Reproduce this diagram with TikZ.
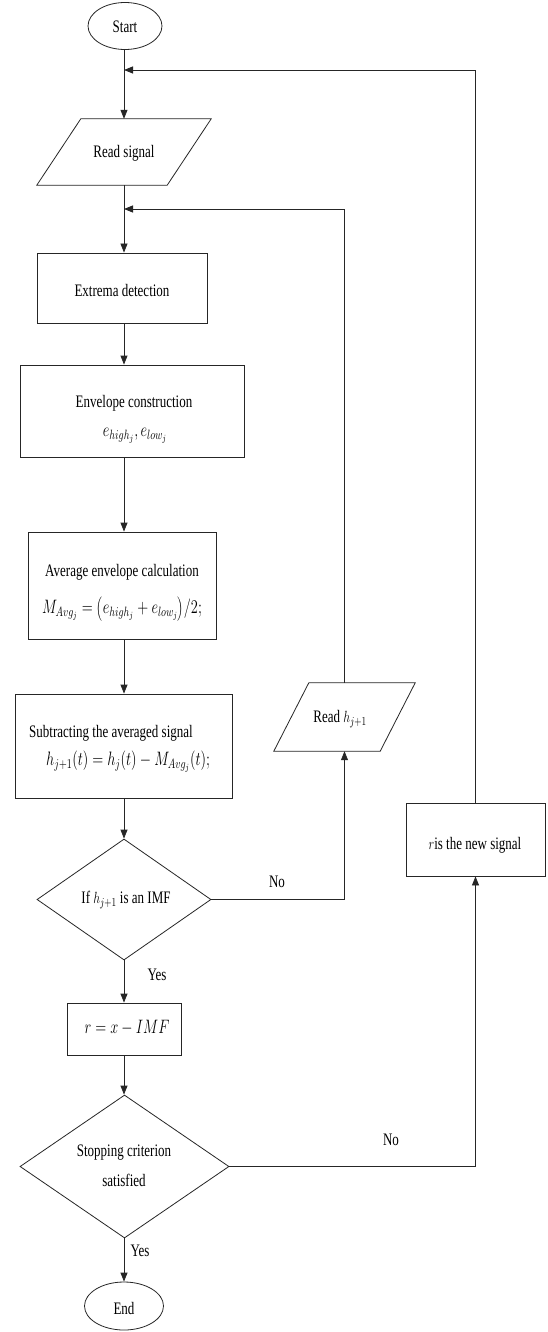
\documentclass[tikz,border=0pt]{standalone}
\usepackage{fontspec}
\setmainfont{Liberation Serif}
\usetikzlibrary{arrows.meta,shapes.geometric,calc}
% text in this chart is set slightly tall and narrow
\newcommand{\tall}[1]{\scalebox{1}[1.35]{#1}}

\begin{document}
\begin{tikzpicture}[x=1pt,y=-1pt,
  line/.style={draw=black!85, line width=0.8pt},
  arr/.style={line, -{Triangle[length=9pt,width=7pt]}},
  box/.style={draw=black!85, line width=0.8pt, rectangle, inner sep=0pt},
  term/.style={draw=black!85, line width=0.8pt, ellipse, inner sep=0pt},
  dec/.style={draw=black!85, line width=0.8pt, diamond, inner sep=0pt},
  io/.style={rectangle, inner sep=0pt},
  txt/.style={inner sep=0pt, font=\fontsize{13}{15}\selectfont},
  mtxt/.style={inner sep=0pt, font=\fontsize{14}{16}\selectfont},
]
\useasboundingbox (0,0) rectangle (547,1332);
\fill[white] (0,0) rectangle (547,1332);

% main vertical flow line and loop junctions
\coordinate (spine) at (124,0);
\coordinate (j1) at (124,70);
\coordinate (j2) at (124,209);

% terminals
\node[term, minimum width=74pt, minimum height=47pt] (start) at (125,26) {};
\node[txt] (start-t) at (125,27) {\tall{Start}};
\node[term, minimum width=79pt, minimum height=48pt] (end) at (124,1306) {};
\node[txt] (end-t) at (124,1308) {\tall{End}};

% input: read signal
\node[io, minimum width=130pt, minimum height=66pt] (read) at (124,152) {};
\draw[line] ($(read.north west)+(22,0)$) -- ($(read.north east)+(22,0)$)
  -- ($(read.south east)+(-22,0)$) -- ($(read.south west)+(-22,0)$) -- cycle;
\node[txt] (read-t) at (124,153) {\tall{Read signal}};

% process boxes
\node[box, minimum width=170pt, minimum height=70pt] (extr) at (122,288) {};
\node[txt] (extr-t) at (122,290) {\tall{Extrema detection}};

\node[box, minimum width=224pt, minimum height=92pt] (env) at (132,411) {};
\node[txt] (env-t1) at (134,403) {\tall{Envelope construction}};
\node[mtxt] (env-t2) at (135,436) {\tall{$e_{high_j}, e_{low_j}$}};

\node[box, minimum width=188pt, minimum height=107pt] (avg) at (122,585.5) {};
\node[txt] (avg-t1) at (122,572) {\tall{Average envelope calculation}};
\node[mtxt] (avg-t2) at (122,609) {\tall{$M_{Avg_j} = \left(e_{high_j} + e_{low_j}\right)\!/2;$}};

\node[box, minimum width=217pt, minimum height=104pt] (sub) at (123.5,746) {};
\node[txt, anchor=west] (sub-t1) at (29,733) {\tall{Subtracting the averaged signal}};
\node[mtxt, anchor=west] (sub-t2) at (46,762) {\tall{$h_{j+1}(t) = h_j(t) - M_{Avg_j}(t);$}};

% first decision
\node[dec, minimum width=174pt, minimum height=121pt] (imf) at (124,899.5) {};
\node[txt] (imf-t) at (126,900) {\tall{If $h_{j+1}$ is an IMF}};

\node[box, minimum width=114pt, minimum height=52pt] (res) at (124,1029) {};
\node[mtxt] (res-t) at (127,1028) {\tall{$r = x - IMF$}};

% second decision
\node[dec, minimum width=209pt, minimum height=143pt] (stop) at (124.5,1166.5) {};
\node[txt] (stop-t1) at (124,1153) {\tall{Stopping criterion}};
\node[txt] (stop-t2) at (124,1180) {\tall{satisfied}};

% right column: read next component, new signal
\node[io, minimum width=106pt, minimum height=68pt] (readh) at (344.5,717) {};
\draw[line] ($(readh.north west)+(17.5,0)$) -- ($(readh.north east)+(17.5,0)$)
  -- ($(readh.south east)+(-17.5,0)$) -- ($(readh.south west)+(-17.5,0)$) -- cycle;
\node[txt] (readh-t) at (340,719) {\tall{Read $h_{j+1}$}};

\node[box, minimum width=139pt, minimum height=73pt] (rnew) at (475.5,839.5) {};
\node[txt] (rnew-t) at (475,845) {\tall{$r$is the new signal}};

% main flow
\draw[line] (start.south -| spine) -- (j1);
\draw[arr] (j1) -- (read.north -| spine);
\draw[line] (read.south -| spine) -- (j2);
\draw[arr] (j2) -- (extr.north -| spine);
\draw[arr] (extr.south -| spine) -- (env.north -| spine);
\draw[arr] (env.south -| spine) -- (avg.north -| spine);
\draw[arr] (avg.south -| spine) -- (sub.north -| spine);
\draw[arr] (sub.south -| spine) -- (imf.north);
\draw[arr] (imf.south) -- (res.north);
\draw[arr] (res.south) -- (stop.north -| spine);
\draw[arr] (stop.south -| spine) -- (end.north -| spine);

% loops
\draw[arr] (imf.east) -| (readh.south);
\draw[arr] (readh.north) |- (j2);
\draw[arr] (stop.east) -| (rnew.south);
\draw[arr] (rnew.north) |- (j1);

% branch labels
\node[txt] (no1) at (277,882) {\tall{No}};
\node[txt] (yes1) at (157,975) {\tall{Yes}};
\node[txt] (no2) at (391,1140) {\tall{No}};
\node[txt] (yes2) at (140,1251) {\tall{Yes}};
\end{tikzpicture}
\end{document}
